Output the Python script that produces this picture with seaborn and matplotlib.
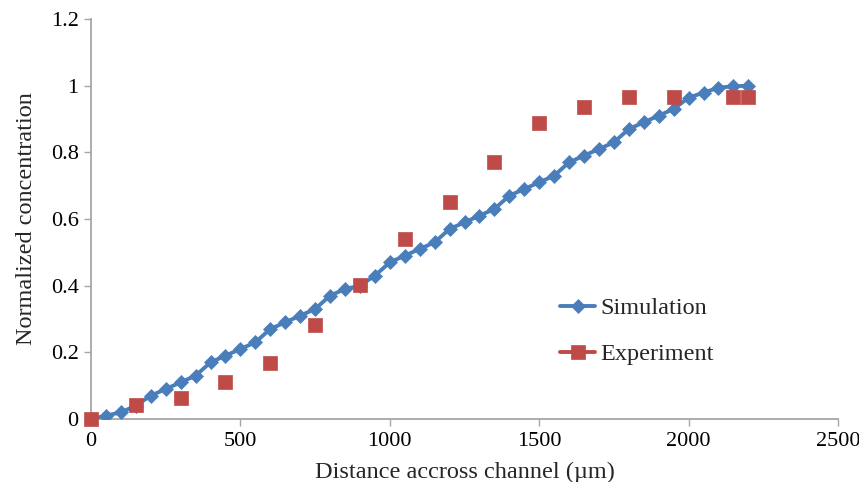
import numpy as np
import pandas as pd
import matplotlib
matplotlib.use("Agg")
import matplotlib.pyplot as plt
from matplotlib.lines import Line2D
import seaborn as sns

# Simulation data (every 50 um)
sim_x = [0, 50, 100, 150, 200, 250, 300, 350, 400, 450, 500, 550, 600, 650, 700,
         750, 800, 850, 900, 950, 1000, 1050, 1100, 1150, 1200, 1250, 1300, 1350,
         1400, 1450, 1500, 1550, 1600, 1650, 1700, 1750, 1800, 1850, 1900, 1950,
         2000, 2050, 2100, 2150, 2200]
sim_y = [0.0, 0.01, 0.02, 0.04, 0.07, 0.09, 0.11, 0.13, 0.17, 0.19, 0.21, 0.23,
         0.27, 0.29, 0.31, 0.33, 0.37, 0.39, 0.40, 0.43, 0.47, 0.49, 0.51, 0.53,
         0.57, 0.59, 0.61, 0.63, 0.67, 0.69, 0.71, 0.73, 0.77, 0.79, 0.81, 0.83,
         0.87, 0.89, 0.91, 0.93, 0.964, 0.979, 0.994, 0.998, 1.0]

# Experiment data
exp_x = [0, 150, 300, 450, 600, 750, 900, 1050, 1200, 1350, 1500, 1650, 1800,
         1950, 2150, 2200]
exp_y = [0.0, 0.042, 0.063, 0.111, 0.168, 0.282, 0.402, 0.54, 0.652, 0.772,
         0.889, 0.937, 0.967, 0.967, 0.967, 0.967]

x_ticks = [0, 500, 1000, 1500, 2000, 2500]
y_ticks = [0, 0.2, 0.4, 0.6, 0.8, 1.0, 1.2]
y_tick_labels = ["0", "0.2", "0.4", "0.6", "0.8", "1", "1.2"]

blue = "#4A7EBB"
red = "#BE4B48"
axis_gray = "#A6A6A6"

sns.set_style("white")
plt.rcParams["font.family"] = ["Liberation Serif", "DejaVu Serif"]

fig = plt.figure(figsize=(8.59, 4.82), dpi=100)
ax = fig.add_axes([91 / 859, 63 / 482, 747 / 859, 400 / 482])

sim_df = pd.DataFrame({"x": sim_x, "y": sim_y})
exp_df = pd.DataFrame({"x": exp_x, "y": exp_y})

sns.lineplot(data=sim_df, x="x", y="y", ax=ax, color=blue, linewidth=2.8,
             marker="D", markersize=7.4, markeredgecolor=blue,
             markeredgewidth=0.5, zorder=3)
sns.scatterplot(data=exp_df, x="x", y="y", ax=ax, color=red, marker="s",
                s=92, edgecolor=red, linewidth=0.5, zorder=4, clip_on=False)

ax.set_xlim(0, 2500)
ax.set_ylim(0, 1.2)
ax.set_xticks(x_ticks)
ax.set_yticks(y_ticks)
ax.set_yticklabels(y_tick_labels)

for s in ["top", "right"]:
    ax.spines[s].set_visible(False)
for s in ["left", "bottom"]:
    ax.spines[s].set_color(axis_gray)
    ax.spines[s].set_linewidth(1.3)

ax.tick_params(axis="both", which="major", direction="out", length=5,
               width=1.0, color=axis_gray, labelsize=16, labelcolor="black",
               bottom=True, left=True, pad=4)

ax.set_xlabel("Distance accross channel (\u00b5m)", fontsize=17.5, labelpad=8)
ax.set_ylabel("Normalized concentration", fontsize=17.5, labelpad=10)

handles = [
    Line2D([0], [0], color=blue, linewidth=2.8, marker="D", markersize=7.4,
           markeredgecolor=blue, markeredgewidth=0.5),
    Line2D([0], [0], color=red, linewidth=2.8, marker="s", markersize=9.6,
           markeredgecolor=red, markeredgewidth=0.5),
]
ax.legend(handles, ["Simulation", "Experiment"], loc="upper left",
          bbox_to_anchor=((560 - 91) / 747, (419 - 297) / 400),
          frameon=False, fontsize=17.5, borderpad=0, borderaxespad=0,
          handlelength=1.45, handletextpad=0.2, labelspacing=1.0)

fig.savefig("out.png", dpi=100)
